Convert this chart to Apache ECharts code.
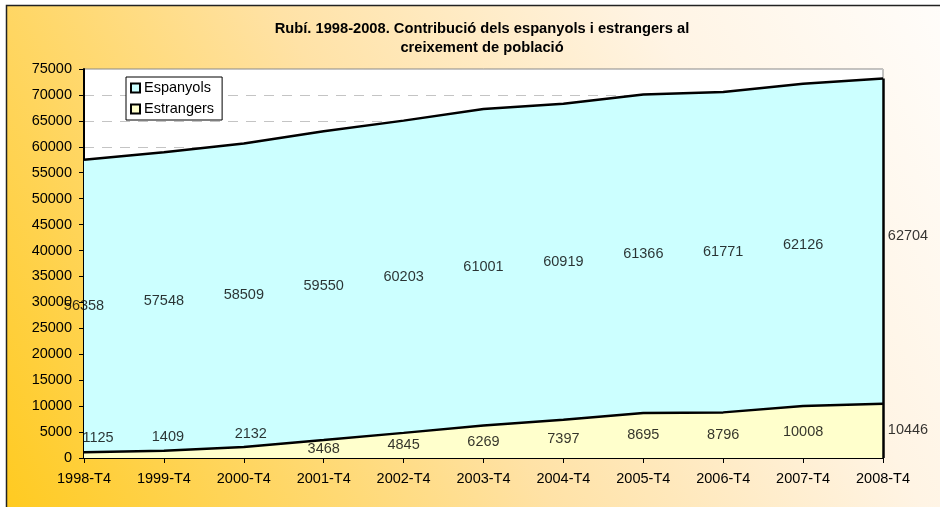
<!DOCTYPE html>
<html>
<head>
<meta charset="utf-8">
<script src="https://cdn.jsdelivr.net/npm/echarts@6/dist/echarts.min.js"></script>
<style>
html,body{margin:0;padding:0;background:#fff;}
#c{width:940px;height:507px;}
</style>
</head>
<body>
<div id="c"></div>
<script>
var categories = ['1998-T4','1999-T4','2000-T4','2001-T4','2002-T4','2003-T4','2004-T4','2005-T4','2006-T4','2007-T4','2008-T4'];
var espanyols = [56358, 57548, 58509, 59550, 60203, 61001, 60919, 61366, 61771, 62126, 62704];
var estrangers = [1125, 1409, 2132, 3468, 4845, 6269, 7397, 8695, 8796, 10008, 10446];
var yTicks = {min: 0, max: 75000, interval: 5000};
var titleText = 'Rubí. 1998-2008. Contribució dels espanyols i estrangers al\ncreixement de població';

var FONT = 'Arial, "Liberation Sans", sans-serif';
var last = categories.length - 1;

// label offsets (style only)
var espOffsets = {}; espOffsets[last] = [25, -5];
var estOffsets = {0: [14, -17], 1: [4, -17], 2: [7, -18]}; estOffsets[last] = [25, -1];

function labelSeries(name, mids, vals, offs) {
  return {
    type: 'scatter', name: name + '_lbl', symbolSize: 0, silent: true, z: 5,
    data: mids.map(function (m, i) {
      var d = {value: [categories[i], m], raw: vals[i]};
      if (offs[i]) d.label = {offset: offs[i]};
      return d;
    }),
    label: {
      show: true, position: 'inside', color: '#000', fontSize: 14.5, fontFamily: FONT,
      textBorderWidth: 0,
      formatter: function (p) { return String(p.data.raw); }
    }
  };
}

var espMid = espanyols.map(function (v, i) { return estrangers[i] + v / 2; });
var estMid = estrangers.map(function (v) { return v / 2; });
var totalLast = espanyols[last] + estrangers[last];

var chart = echarts.init(document.getElementById('c'), null, {renderer: 'canvas'});
chart.setOption({
  backgroundColor: '#fff',
  animation: false,
  graphic: [{
    type: 'rect', z: -100, silent: true,
    shape: {x: 6.5, y: 5.5, width: 950, height: 520},
    style: {
      fill: new echarts.graphic.LinearGradient(0, 1, 1, 0, [
        {offset: 0, color: '#FFCA1E'},
        {offset: 0.45, color: '#FFE2A6'},
        {offset: 0.75, color: '#FFF4E4'},
        {offset: 1, color: '#FFFDFB'}
      ]),
      stroke: '#222', lineWidth: 1.5
    }
  }],
  title: {
    text: titleText, left: 477, top: 14, textAlign: 'center',
    textStyle: {fontSize: 14.7, fontWeight: 'bold', fontFamily: FONT, color: '#000', lineHeight: 19}
  },
  legend: {
    orient: 'vertical', left: 126, top: 77,
    backgroundColor: '#fff', borderColor: '#000', borderWidth: 1,
    padding: [3, 8, 3, 4], itemGap: 5, itemWidth: 9, itemHeight: 9,
    icon: 'rect',
    textStyle: {fontSize: 14.5, fontFamily: FONT, color: '#000', lineHeight: 16, padding: [0, 0, 0, -1]},
    data: [
      {name: 'Espanyols', itemStyle: {color: '#CCFFFF', borderColor: '#000', borderWidth: 2}},
      {name: 'Estrangers', itemStyle: {color: '#FFFFCC', borderColor: '#000', borderWidth: 2}}
    ]
  },
  grid: {
    left: 84, right: 57, top: 69, bottom: 49,
    show: true, backgroundColor: '#fff', borderColor: '#888', borderWidth: 1
  },
  xAxis: {
    type: 'category', data: categories, boundaryGap: false,
    axisLine: {lineStyle: {color: '#000', width: 2}},
    axisTick: {show: true, length: 5, lineStyle: {color: '#000'}},
    axisLabel: {fontSize: 14.5, fontFamily: FONT, color: '#000', margin: 13, interval: 0},
    splitLine: {show: false}
  },
  yAxis: {
    type: 'value', min: yTicks.min, max: yTicks.max, interval: yTicks.interval,
    axisLine: {show: true, lineStyle: {color: '#000', width: 2}},
    axisTick: {show: true, length: 5, lineStyle: {color: '#000'}},
    axisLabel: {fontSize: 14.5, fontFamily: FONT, color: '#000', margin: 12,
      formatter: function (v) { return String(v); }},
    splitLine: {show: true, lineStyle: {color: '#C4C4C4', type: [10, 8], width: 1}}
  },
  series: [
    {
      name: 'Estrangers', type: 'line', stack: 'pob', data: estrangers,
      symbol: 'none', z: 3,
      lineStyle: {color: '#000', width: 2.5},
      itemStyle: {color: '#FFFFCC'},
      areaStyle: {color: '#FFFFCC', opacity: 1}
    },
    {
      name: 'Espanyols', type: 'line', stack: 'pob', data: espanyols,
      symbol: 'none', z: 2,
      lineStyle: {color: '#000', width: 2.5},
      itemStyle: {color: '#CCFFFF'},
      areaStyle: {color: '#CCFFFF', opacity: 1},
      markLine: {
        silent: true, symbol: 'none', label: {show: false},
        lineStyle: {color: '#000', width: 2.5, type: 'solid'},
        data: [[{coord: [categories[last], 0]}, {coord: [categories[last], totalLast]}]]
      }
    },
    labelSeries('Espanyols', espMid, espanyols, espOffsets),
    labelSeries('Estrangers', estMid, estrangers, estOffsets)
  ]
});
</script>
</body>
</html>
